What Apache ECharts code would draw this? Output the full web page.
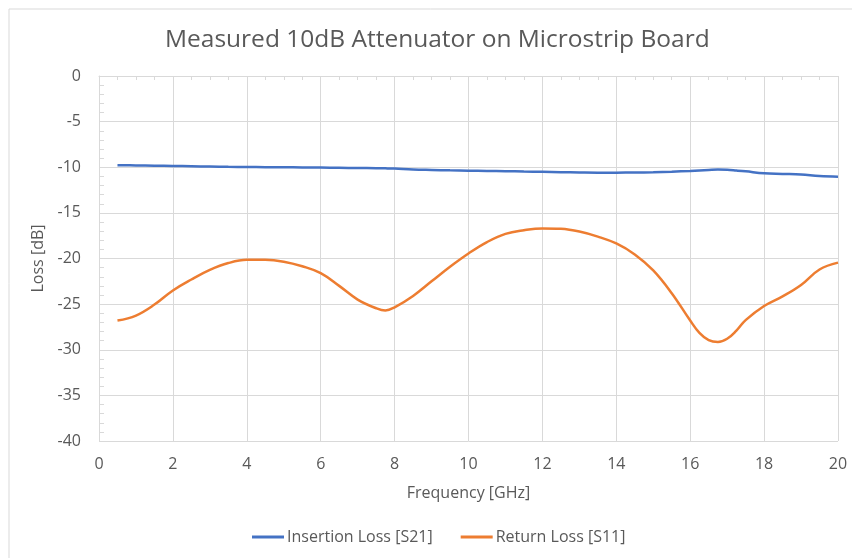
<!DOCTYPE html>
<html>
<head>
<meta charset="utf-8">
<script src="https://cdn.jsdelivr.net/npm/echarts@6/dist/echarts.min.js"></script>
<style>
  html, body { margin: 0; padding: 0; background: #fff; }
  #chart { width: 852px; height: 558px; }
</style>
</head>
<body>
<div id="chart"></div>
<script>
// Frequency points in GHz (denser around the deep S11 dips)
const freqGHz = [0.5, 1, 1.5, 2, 2.5, 3, 3.5, 4, 4.5, 5, 5.5, 6, 6.5, 7, 7.5, 7.75, 8, 8.5, 9, 9.5, 10,
  10.5, 11, 11.5, 12, 12.5, 13, 13.5, 14, 14.5, 15, 15.5, 16, 16.25, 16.5, 16.75, 17, 17.25, 17.5, 18, 18.5, 19, 19.5, 20];

// Insertion loss S21 in dB
const insertionLoss = [-9.78, -9.80, -9.83, -9.86, -9.89, -9.92, -9.95, -9.97, -9.99, -10.00,
  -10.02, -10.04, -10.06, -10.08, -10.10, -10.12, -10.15, -10.25, -10.30, -10.34, -10.37,
  -10.40, -10.43, -10.47, -10.50, -10.54, -10.57, -10.59, -10.59, -10.58, -10.55,
  -10.49, -10.40, -10.35, -10.30, -10.26, -10.28, -10.36, -10.45, -10.66, -10.73, -10.80, -10.97, -11.03];

// Return loss S11 in dB
const returnLoss = [-26.80, -26.25, -25.05, -23.50, -22.30, -21.25, -20.50, -20.15, -20.15, -20.35,
  -20.85, -21.60, -23.00, -24.50, -25.45, -25.70, -25.35, -24.10, -22.50, -20.90, -19.45,
  -18.20, -17.30, -16.90, -16.70, -16.75, -17.05, -17.60, -18.35, -19.55, -21.30,
  -23.80, -26.80, -28.15, -28.95, -29.15, -28.80, -27.90, -26.75, -25.20, -24.15, -22.90, -21.20, -20.45];

const seriesNames = ['Insertion Loss [S21]', 'Return Loss [S11]'];
const titleText = 'Measured 10dB Attenuator on Microstrip Board';
const xAxisName = 'Frequency [GHz]';
const yAxisName = 'Loss [dB]';

const FONT = 'Open Sans';
const TEXT = '#595959';
const GRID = '#D9D9D9';

const pairs = (ys) => freqGHz.map((f, i) => [f, ys[i]]);

const chart = echarts.init(document.getElementById('chart'), null, { renderer: 'canvas' });
chart.setOption({
  animation: false,
  backgroundColor: '#fff',
  title: {
    text: titleText,
    left: 160,
    top: 23,
    textStyle: { fontFamily: FONT, fontSize: 24.5, fontWeight: 'normal', color: TEXT }
  },
  legend: {
    bottom: 8,
    left: 247,
    itemWidth: 32,
    itemHeight: 3,
    itemGap: 28,
    icon: 'rect',
    textStyle: { fontFamily: FONT, fontSize: 16, color: TEXT, padding: [0, 0, 0, -2] },
    data: seriesNames
  },
  graphic: [
    { type: 'line', shape: { x1: 9, y1: 9, x2: 852, y2: 9 }, style: { stroke: GRID, lineWidth: 1 } },
    { type: 'line', shape: { x1: 9, y1: 9, x2: 9, y2: 558 }, style: { stroke: GRID, lineWidth: 1 } }
  ],
  grid: { left: 99, right: 14, top: 76, bottom: 117 },
  xAxis: [
    {
      type: 'value', position: 'bottom', min: 0, max: 20, interval: 2,
      name: xAxisName, nameLocation: 'middle', nameGap: 44,
      nameTextStyle: { fontFamily: FONT, fontSize: 16, color: TEXT },
      axisLine: { show: false },
      axisTick: { show: false },
      axisLabel: { fontFamily: FONT, fontSize: 16, color: TEXT, margin: 15 },
      splitLine: { show: true, lineStyle: { color: GRID, width: 1 } }
    },
    {
      type: 'value', position: 'top', min: 0, max: 20, interval: 2,
      axisLine: { show: true, lineStyle: { color: GRID, width: 1 } },
      axisTick: { show: true, inside: true, length: 4, lineStyle: { color: GRID } },
      minorTick: { show: true, splitNumber: 4, length: 4, lineStyle: { color: GRID } },
      axisLabel: { show: false },
      splitLine: { show: false }
    }
  ],
  yAxis: {
    type: 'value', min: -40, max: 0, interval: 5,
    name: yAxisName, nameLocation: 'middle', nameGap: 48,
    nameTextStyle: { fontFamily: FONT, fontSize: 16, color: TEXT },
    axisLine: { show: true, lineStyle: { color: GRID, width: 1 } },
    axisTick: { show: true, inside: true, length: 5, lineStyle: { color: GRID } },
    minorTick: { show: true, splitNumber: 5, length: 5, lineStyle: { color: GRID } },
    axisLabel: { fontFamily: FONT, fontSize: 16, color: TEXT, margin: 18 },
    splitLine: { show: true, lineStyle: { color: GRID, width: 1 } }
  },
  series: [
    {
      name: seriesNames[0], type: 'line', xAxisIndex: 0, data: pairs(insertionLoss),
      smooth: 0.4, showSymbol: false, symbol: 'none',
      lineStyle: { color: '#4472C4', width: 2.5 }, itemStyle: { color: '#4472C4' }
    },
    {
      name: seriesNames[1], type: 'line', xAxisIndex: 0, data: pairs(returnLoss),
      smooth: 0.4, showSymbol: false, symbol: 'none',
      lineStyle: { color: '#ED7D31', width: 2.5 }, itemStyle: { color: '#ED7D31' }
    }
  ]
});
</script>
</body>
</html>
